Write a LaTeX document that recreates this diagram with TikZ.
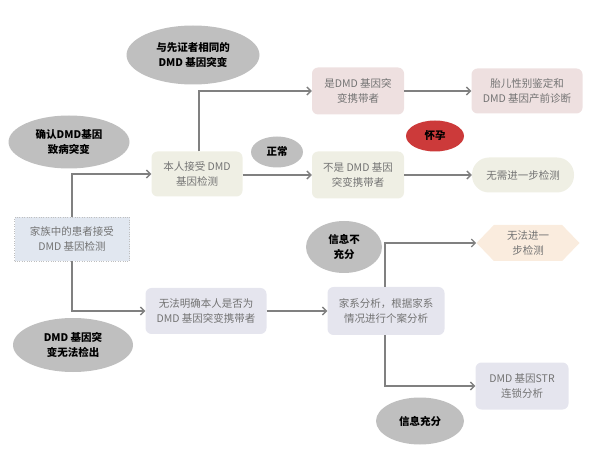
\documentclass[tikz,border=0pt]{standalone}
\usepackage{fontspec}
\usepackage{tikz}
\usetikzlibrary{arrows.meta,positioning,shapes.geometric,shapes.symbols}
\newfontfamily\cjk{Noto Sans CJK SC}
\definecolor{dmdgray}{RGB}{191,191,191}
\definecolor{dmdline}{RGB}{128,128,128}
\definecolor{dmdtext}{RGB}{115,115,115}
\definecolor{dmdpink}{RGB}{238,224,224}
\definecolor{dmdbeige}{RGB}{239,239,228}
\definecolor{dmdlilac}{RGB}{229,229,238}
\definecolor{dmdblue}{RGB}{225,231,240}
\definecolor{dmdpeach}{RGB}{250,236,222}
\definecolor{dmdred}{RGB}{204,58,58}

\begin{document}
\begin{tikzpicture}[x=1pt,y=-1pt,font=\cjk\fontsize{10.5}{15}\selectfont,
    box/.style={rounded corners=6pt,text=dmdtext,align=center,inner sep=0pt},
    tag/.style={ellipse,fill=dmdgray,align=center,inner sep=0pt,font=\cjk\bfseries\fontsize{10.5}{15}\selectfont},
    arr/.style={draw=dmdline,line width=1.3pt,-{Straight Barb[length=4pt,width=8pt]}}]
    \useasboundingbox (0,0) rectangle (590,468);
    % conditions
    \node[tag,minimum width=133,minimum height=59] (same) at (193,55) {与先证者相同的\\DMD 基因突变};
    \node[tag,minimum width=121,minimum height=53] (confirm) at (69,142) {确认DMD基因\\致病突变};
    \node[tag,minimum width=52,minimum height=31] (normal) at (277,152) {正常};
    \node[tag,fill=dmdred,minimum width=58,minimum height=31] (preg) at (435,136) {怀孕};
    \node[tag,minimum width=76,minimum height=52] (lack) at (344,247) {信息不\\充分};
    \node[tag,minimum width=88,minimum height=47] (enough) at (420,421) {信息充分};
    \node[tag,minimum width=120,minimum height=54] (undet) at (73,345) {DMD 基因突\\变无法检出};
    % steps
    \node[box,fill=dmdblue,draw=dmdgray,dotted,rounded corners=0pt,minimum width=115,minimum height=44] (fam) at (72,239) {家族中的患者接受\\DMD 基因检测};
    \node[box,fill=dmdbeige,minimum width=91,minimum height=45] (self) at (197,174) {本人接受 DMD\\基因检测};
    \node[box,fill=dmdpink,minimum width=92,minimum height=47] (carrier) at (358,91) {是DMD 基因突\\变携带者};
    \node[box,fill=dmdpink,minimum width=111,minimum height=45] (prenatal) at (527,91) {胎儿性别鉴定和\\DMD 基因产前诊断};
    \node[box,fill=dmdbeige,minimum width=92,minimum height=47] (noncarrier) at (358,175) {不是 DMD 基因\\突变携带者};
    \node[box,fill=dmdbeige,rounded corners=17pt,minimum width=102,minimum height=35] (nomore) at (523,175) {无需进一步检测};
    \node[box,fill=dmdlilac,minimum width=121,minimum height=46] (unclear) at (206,311) {无法明确本人是否为\\DMD 基因突变携带者};
    \node[box,fill=dmdlilac,minimum width=117,minimum height=48] (pedigree) at (386,311) {家系分析，根据家系\\情况进行个案分析};
    \node[signal,signal to=east and west,signal pointer angle=92,fill=dmdpeach,text=dmdtext,align=center,
      inner sep=0pt,minimum width=103,minimum height=36] (stop) at (528,243) {无法进一\\步检测};
    \node[box,fill=dmdlilac,minimum width=93,minimum height=47] (str) at (522,386) {DMD 基因STR\\连锁分析};
    % connectors
    \draw[arr] (fam.north) |- (self.west);
    \draw[arr] (fam.south) |- (unclear.west);
    \draw[arr] ([xshift=2pt]self.north) |- (carrier.west);
    \draw[arr] (self.east |- noncarrier.west) -- (noncarrier.west);
    \draw[arr] (carrier.east) -- (prenatal.west);
    \draw[arr] (noncarrier.east) -- (nomore.west);
    \draw[arr] (unclear.east) -- (pedigree.west);
    \draw[arr] ([xshift=-1pt]pedigree.north) |- (stop.west);
    \draw[arr] ([xshift=-1pt]pedigree.south) |- (str.west);
  \end{tikzpicture}
\end{document}
